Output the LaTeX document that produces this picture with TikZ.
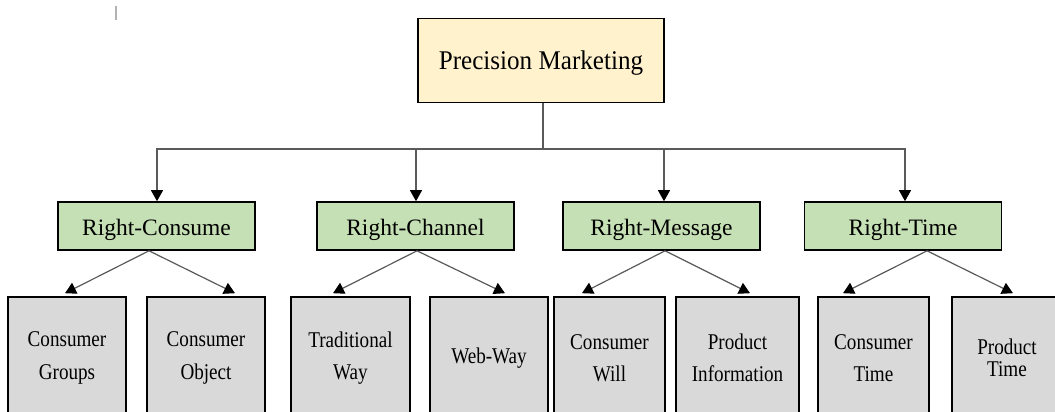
\documentclass[tikz,border=0pt]{standalone}
\usepackage{fontspec}
\setmainfont{Liberation Serif}
\newfontfamily\topfont[FakeStretch=0.93]{Liberation Serif}
\newfontfamily\lowfont[FakeStretch=0.85]{Liberation Serif}
\usetikzlibrary{arrows.meta}
\definecolor{topfill}{HTML}{FFF2CC}
\definecolor{midfill}{HTML}{C5E0B4}
\definecolor{lowfill}{HTML}{D9D9D9}
\definecolor{linkgray}{HTML}{5A5A5A}

\begin{document}
\begin{tikzpicture}[x=1pt,y=-1pt,
 	topbox/.style={draw=black,line width=1.6pt,fill=topfill,minimum width=246pt,minimum height=84pt,inner sep=0pt,text height=25pt,text depth=6pt,font=\topfont\fontsize{27}{32}\selectfont},
 	midbox/.style={draw=black,line width=1.6pt,fill=midfill,minimum width=197pt,minimum height=48pt,inner sep=0pt,text height=24pt,text depth=5pt,font=\fontsize{23.5}{28}\selectfont},
 	lowbox/.style={draw=black,line width=1.6pt,fill=lowfill,minimum height=122pt,inner sep=0pt,align=center,font=\lowfont\fontsize{22.5}{32.5}\selectfont},
 	wire/.style={draw=linkgray,line width=1.2pt},
 	link/.style={wire,-{Triangle[length=11pt,width=12pt,color=black]}}]
 	\path[use as bounding box] (0,0) rectangle (1055,412);
 	\clip (0,0) rectangle (1055,412);
 	\draw[gray!60,line width=2pt] (116,6) -- (116,20);
 	\node[topbox] (pm) at (541,60.5) {Precision Marketing};
 	\node[midbox] (rc) at (156.5,226) {Right-Consume};
 	\node[midbox] (rch) at (415.5,226) {Right-Channel};
 	\node[midbox] (rm) at (661.5,226) {Right-Message};
 	\node[midbox] (rt) at (903,226) {Right-Time};
 	\node[lowbox,minimum width=118pt] (cg) at (67,358) {Consumer\\Groups};
 	\node[lowbox,minimum width=118pt] (co) at (206,358) {Consumer\\Object};
 	\node[lowbox,minimum width=119pt] (tw) at (350.5,358) {Traditional\\Way};
 	\node[lowbox,minimum width=118pt] (ww) at (489,358) {Web-Way};
 	\node[lowbox,minimum width=111pt] (cw) at (609.5,358) {Consumer\\Will};
 	\node[lowbox,minimum width=123pt] (pi) at (737.5,358) {Product\\Information};
 	\node[lowbox,minimum width=111pt] (ct) at (873.5,358) {Consumer\\Time};
 	\node[lowbox,minimum width=110pt,font=\lowfont\fontsize{22.5}{22}\selectfont] (pt) at (1007,358) {Product\\Time};
 	\coordinate (bus) at (543,149);
 	\draw[wire] ([xshift=2pt]pm.south) -- (bus);
 	\draw[link] (bus) -| ([xshift=0.5pt]rc.north);
 	\draw[link] (bus) -| ([xshift=0.5pt]rch.north);
 	\draw[link] (bus) -| ([xshift=2.5pt]rm.north);
 	\draw[link] (bus) -| ([xshift=2pt]rt.north);
 	\draw[link] ([xshift=-7.5pt]rc.south) -- ([xshift=-2pt,yshift=3pt]cg.north);
 	\draw[link] ([xshift=-7.5pt]rc.south) -- ([xshift=29pt,yshift=3pt]co.north);
 	\draw[link] ([xshift=1.5pt]rch.south) -- ([xshift=-17.5pt,yshift=3pt]tw.north);
 	\draw[link] ([xshift=1.5pt]rch.south) -- ([xshift=16pt,yshift=3pt]ww.north);
 	\draw[link] ([xshift=3.5pt]rm.south) -- ([xshift=-27.5pt,yshift=3pt]cw.north);
 	\draw[link] ([xshift=3.5pt]rm.south) -- ([xshift=12.5pt,yshift=3pt]pi.north);
 	\draw[link] ([xshift=24pt]rt.south) -- ([xshift=-30.5pt,yshift=3pt]ct.north);
 	\draw[link] ([xshift=24pt]rt.south) -- ([xshift=6pt,yshift=3pt]pt.north);
\end{tikzpicture}
\end{document}
